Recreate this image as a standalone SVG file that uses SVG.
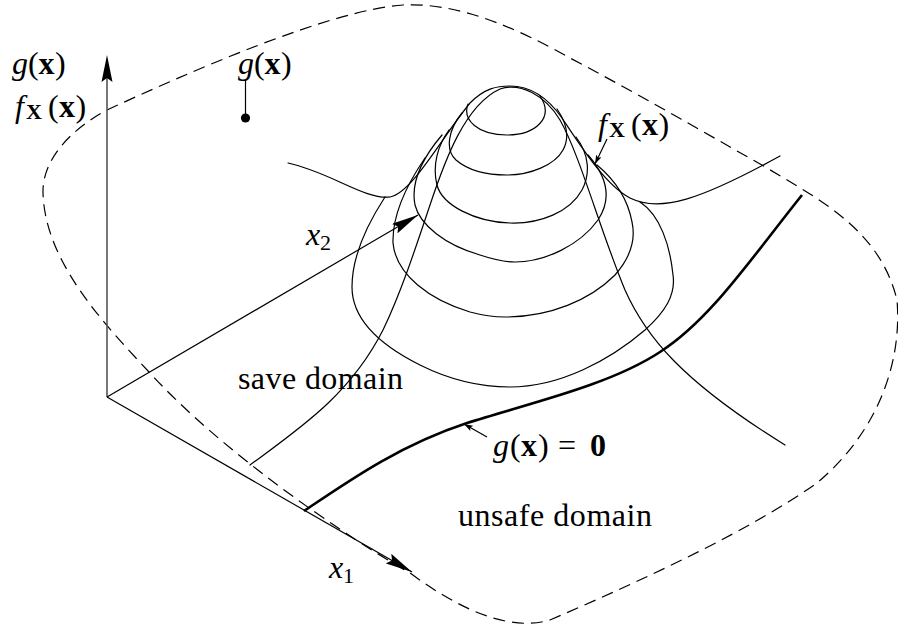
<svg xmlns="http://www.w3.org/2000/svg" width="898" height="631" viewBox="0 0 898 631">
<defs>
<style>
.ln{fill:none;stroke:#000;stroke-width:1.2;stroke-linejoin:round;stroke-linecap:round}
.thick{fill:none;stroke:#000;stroke-width:2.6;stroke-linecap:butt}
.dash{fill:none;stroke:#000;stroke-width:1.2;stroke-dasharray:12 7}
.ax{fill:none;stroke:#000;stroke-width:1.2}
.axz{fill:none;stroke:#555;stroke-width:1.6}
text{font-family:"Liberation Serif","Times New Roman",serif;font-size:32px;fill:#000}
.i{font-style:italic}
.b{font-weight:bold}
.sub{font-size:22px}
</style>
<marker id="ah" viewBox="0 0 27 11" refX="27" refY="5.5" markerWidth="27" markerHeight="11" markerUnits="userSpaceOnUse" orient="auto"><path d="M0,0 L27,5.5 L0,11 L4,5.5 Z" fill="#000"/></marker>
<marker id="sah" viewBox="0 0 9 6" refX="9" refY="3" markerWidth="9" markerHeight="6" markerUnits="userSpaceOnUse" orient="auto"><path d="M0,0 L9,3 L0,6 L2,3 Z" fill="#000"/></marker>
</defs>
<rect width="898" height="631" fill="#fff"/>

<g id="boundary">
<path class="dash" d="M107,110 C187,73 330,10 403,5 C460,2 520,30 570,58 C640,95 700,130 767,168 C820,200 880,230 897,300 C902,360 880,430 817,483 C750,530 650,577 550,620 C510,632 460,610 410,573 C340,533 220,450 150,373 C100,320 45,260 43,193 C42,160 70,130 107,110 Z"/>
</g>

<g id="surface">
<path id="profile-outer" class="ln" d="M288,163 C330,172 365,200 390,197 C412,193 440,140 470,103 C485,88 497,86 510,86 C530,86 548,98 562,118 C580,145 605,185 630,198 C660,213 700,200 780,156"/>
<path id="profile-inner" class="ln" d="M250,465 C300,428 350,395 383,330 C400,295 415,250 430,205 C445,160 465,105 500,89 C520,82 545,95 560,120 C580,155 600,230 625,290 C645,335 680,380 785,445"/>
<path id="ring1" class="ln" d="M468,104 C462,120 478,135 507,135 C535,135 555,118 540,96"/>
<path id="ring2" class="ln" d="M462,113 C448,130 445,150 456,160 C470,172 490,175 507,175 C530,175 555,165 563,150 C570,137 566,122 557,109"/>
<path id="ring3" class="ln" d="M449,130 C438,145 432,165 437,185 C442,205 475,222 510,223 C540,224 570,212 582,190 C590,175 590,155 576,137"/>
<path id="ring4" class="ln" d="M442,135 C425,155 410,180 415,205 C420,225 445,245 480,255 C495,260 505,262 515,262 C545,262 580,245 598,220 C610,202 610,180 588,155"/>
<path id="ring5" class="ln" d="M425,158 C410,180 392,212 393,243 C396,275 430,300 470,312 C485,316 495,317 505,317 C550,317 590,300 615,275 C630,258 636,240 632,222 C628,200 615,180 597,165"/>
<path id="ring6" class="ln" d="M385,197 C370,220 352,255 352,287 C352,320 380,345 420,365 C450,380 480,387 510,387 C560,387 610,360 645,330 C665,312 676,295 673,275 C670,245 660,215 640,202"/>
</g>

<g id="limit-state">
<path class="thick" d="M304,511 C350,480 400,445 467,423 C530,403 610,385 660,352 C710,320 750,260 802,195"/>
</g>

<g id="axes">
<line id="axis-z" class="axz" x1="107" y1="397" x2="107" y2="60"/>
<path d="M107,55 L101.5,82 L107,78 L112.5,82 Z" fill="#000"/>
<line id="axis-x2" class="ax" x1="107" y1="397" x2="418" y2="215" marker-end="url(#ah)"/>
<line id="axis-x1" class="ax" x1="107" y1="397" x2="412" y2="572" marker-end="url(#ah)"/>
</g>

<g id="connectors">
<line class="ln" x1="245.5" y1="80" x2="245.5" y2="118"/>
<circle cx="245.5" cy="118" r="4.6" fill="#000"/>
<line class="ax" x1="607" y1="139" x2="595" y2="164" marker-end="url(#sah)"/>
<line class="ax" x1="487" y1="437" x2="464" y2="424" marker-end="url(#sah)"/>
</g>

<g id="labels">
<text id="lbl-g-axis" y="74"><tspan class="i" x="12">g</tspan><tspan x="28">(</tspan><tspan class="b" x="38.5">x</tspan><tspan x="55">)</tspan></text>
<text id="lbl-f-axis" y="117"><tspan class="i" x="15">f</tspan><tspan class="b sub" x="26" dy="2">X</tspan><tspan x="48" dy="-2">(</tspan><tspan class="b" x="59">x</tspan><tspan x="75.5">)</tspan></text>
<text id="lbl-g-point" y="74"><tspan class="i" x="238">g</tspan><tspan x="254">(</tspan><tspan class="b" x="264.5">x</tspan><tspan x="281">)</tspan></text>
<text id="lbl-f-surface" y="135"><tspan class="i" x="598">f</tspan><tspan class="b sub" x="609" dy="2">X</tspan><tspan x="631" dy="-2">(</tspan><tspan class="b" x="642">x</tspan><tspan x="658.5">)</tspan></text>
<text id="lbl-x2" y="245"><tspan class="i" x="306">x</tspan><tspan class="sub" x="320" dy="5">2</tspan></text>
<text id="lbl-x1" y="578"><tspan class="i" x="329">x</tspan><tspan class="sub" x="343" dy="5">1</tspan></text>
<text id="lbl-safe" x="238" y="389" textLength="165" lengthAdjust="spacing">save domain</text>
<text id="lbl-unsafe" x="458" y="526" textLength="194" lengthAdjust="spacing">unsafe domain</text>
<text id="lbl-g0" y="456"><tspan class="i" x="493">g</tspan><tspan x="510">(</tspan><tspan class="b" x="521">x</tspan><tspan x="538">)</tspan><tspan x="558">=</tspan><tspan class="b" x="590">0</tspan></text>
</g>
</svg>
